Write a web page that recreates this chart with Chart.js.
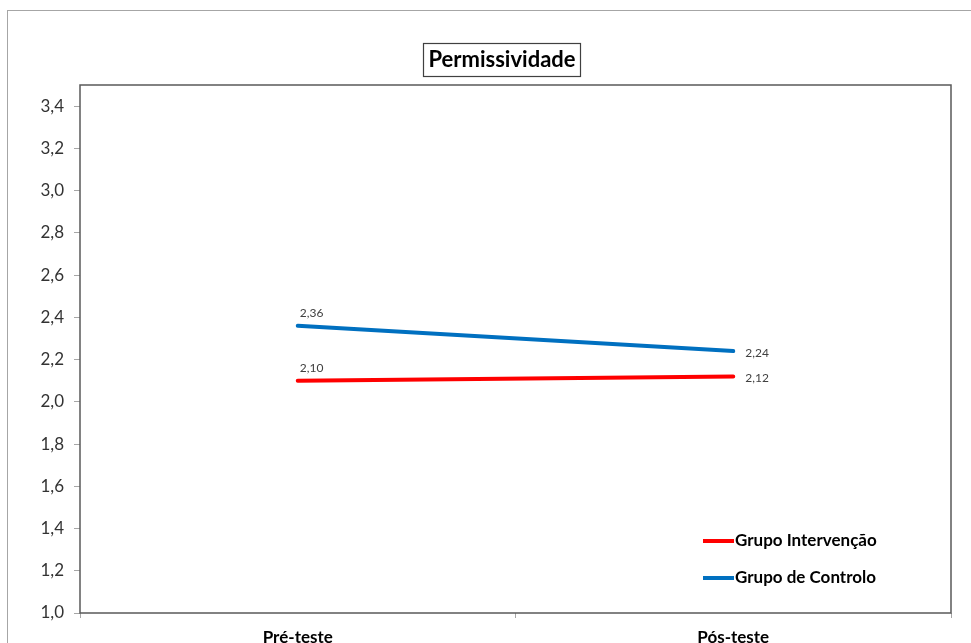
<!DOCTYPE html>
<html>
<head>
<meta charset="utf-8">
<style>
  html, body { margin: 0; padding: 0; background: #ffffff; }
  #wrap { width: 971px; height: 643px; }
</style>
<script src="https://cdn.jsdelivr.net/npm/chart.js@4/dist/chart.umd.min.js"></script>
</head>
<body>
<div id="wrap"><canvas id="c" width="971" height="643"></canvas></div>
<script>
// Chart data
const titleText = 'Permissividade';
const categories = ['Pré-teste', 'Pós-teste'];
const seriesNames = ['Grupo Intervenção', 'Grupo de Controlo'];
const intervencao = [2.10, 2.12];
const controlo = [2.36, 2.24];
const yMin = 1.0;
const yMax = 3.5;
const yStep = 0.2;

const FONT = 'Lato, "Open Sans", "DejaVu Sans", sans-serif';
const fmt = v => v.toFixed(1).replace('.', ',');
const fmt2 = v => v.toFixed(2).replace('.', ',');

// Outer frame, title box and plot border
const framePlugin = {
  id: 'frame',
  beforeDraw(chart) {
    const ctx = chart.ctx;
    ctx.save();
    ctx.fillStyle = '#ffffff';
    ctx.fillRect(0, 0, chart.width, chart.height);
    ctx.strokeStyle = '#a6a6a6';
    ctx.lineWidth = 1;
    ctx.strokeRect(7.5, 10.5, chart.width, chart.height);
    ctx.restore();
  },
  afterDraw(chart) {
    const ctx = chart.ctx;
    const a = chart.chartArea;
    ctx.save();
    // plot border
    ctx.strokeStyle = '#595959';
    ctx.lineWidth = 1.5;
    ctx.strokeRect(a.left, a.top, a.right - a.left, a.bottom - a.top);
    // title with box
    ctx.font = 'bold 22px ' + FONT;
    ctx.fillStyle = '#000000';
    ctx.textAlign = 'center';
    ctx.textBaseline = 'middle';
    const cx = 502;
    const cy = 60;
    ctx.fillText(titleText, cx, cy);
    const w = ctx.measureText(titleText).width;
    ctx.strokeStyle = '#404040';
    ctx.lineWidth = 1.2;
    ctx.strokeRect(Math.round(cx - w / 2 - 5) + 0.5, 43.5, Math.round(w + 10), 33);
    ctx.restore();
  }
};

// Value labels next to the line ends
const labelPlugin = {
  id: 'valueLabels',
  afterDatasetsDraw(chart) {
    const ctx = chart.ctx;
    ctx.save();
    ctx.font = '12px ' + FONT;
    ctx.fillStyle = '#404040';
    ctx.textBaseline = 'middle';
    ctx.textAlign = 'left';
    chart.data.datasets.forEach((ds, di) => {
      const meta = chart.getDatasetMeta(di);
      meta.data.forEach((pt, i) => {
        const txt = fmt2(ds.data[i]);
        if (i === 0) {
          ctx.fillText(txt, pt.x + 2, pt.y - 13);
        } else {
          ctx.fillText(txt, pt.x + 12, pt.y + 2);
        }
      });
    });
    ctx.restore();
  }
};

// Legend inside the plot, lower right
const legendPlugin = {
  id: 'innerLegend',
  afterDraw(chart) {
    const ctx = chart.ctx;
    ctx.save();
    ctx.font = 'bold 17px ' + FONT;
    ctx.textBaseline = 'middle';
    ctx.textAlign = 'left';
    const rows = [541, 578];
    chart.data.datasets.forEach((ds, i) => {
      const y = rows[i];
      ctx.strokeStyle = ds.borderColor;
      ctx.lineWidth = 4;
      ctx.lineCap = 'butt';
      ctx.beginPath();
      ctx.moveTo(703, y);
      ctx.lineTo(734, y);
      ctx.stroke();
      ctx.fillStyle = '#000000';
      ctx.fillText(ds.label, 735, y);
    });
    ctx.restore();
  }
};

new Chart(document.getElementById('c'), {
  type: 'line',
  data: {
    labels: categories,
    datasets: [
      { label: seriesNames[0], data: intervencao, borderColor: '#ff0000', backgroundColor: '#ff0000',
        borderWidth: 4, pointRadius: 0, tension: 0, borderCapStyle: 'round' },
      { label: seriesNames[1], data: controlo, borderColor: '#0070c0', backgroundColor: '#0070c0',
        borderWidth: 4, pointRadius: 0, tension: 0, borderCapStyle: 'round' }
    ]
  },
  options: {
    responsive: false,
    devicePixelRatio: 1,
    animation: false,
    layout: { padding: { top: 85, right: 20, left: 0, bottom: 0 } },
    plugins: {
      legend: { display: false },
      title: { display: false },
      tooltip: { enabled: false }
    },
    scales: {
      x: {
        type: 'category',
        offset: true,
        grid: { display: true, drawOnChartArea: false, drawTicks: true, tickLength: 5, offset: true, color: '#a6a6a6' },
        border: { display: false },
        ticks: { color: '#000000', font: { family: FONT, size: 17, weight: 'bold' }, padding: 9, maxRotation: 0 },
        afterFit(scale) { scale.height = 30; }
      },
      y: {
        min: yMin,
        max: yMax,
        grid: { display: true, drawOnChartArea: false, drawTicks: true, tickLength: 6, color: '#a6a6a6' },
        border: { display: false },
        ticks: {
          stepSize: yStep,
          color: '#333333',
          font: { family: FONT, size: 17 },
          padding: 10,
          callback: v => fmt(v)
        },
        afterBuildTicks(scale) {
          scale.ticks = scale.ticks.filter(t => t.value <= 3.41);
        },
        afterFit(scale) { scale.width = 80; }
      }
    }
  },
  plugins: [framePlugin, labelPlugin, legendPlugin]
});
</script>
</body>
</html>
